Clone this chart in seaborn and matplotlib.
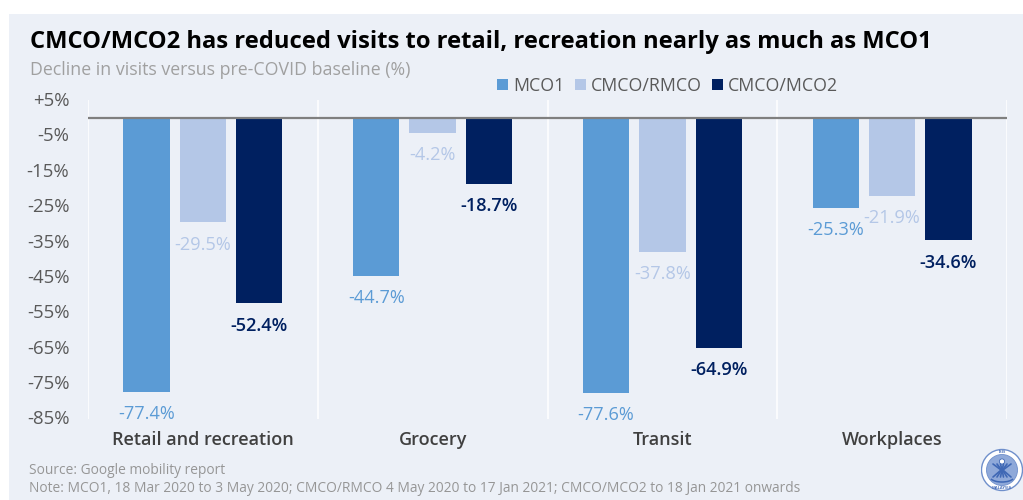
import matplotlib
matplotlib.use("Agg")
import matplotlib.pyplot as plt
from matplotlib.patches import Rectangle, Circle, Arc
from matplotlib.transforms import ScaledTranslation
import pandas as pd
import seaborn as sns

categories = ["Retail and recreation", "Grocery", "Transit", "Workplaces"]
mco1 = [-77.4, -44.7, -77.6, -25.3]
rmco = [-29.5, -4.2, -37.8, -21.9]
mco2 = [-52.4, -18.7, -64.9, -34.6]
series_names = ["MCO1", "CMCO/RMCO", "CMCO/MCO2"]
series_colors = ["#5B9BD5", "#B4C7E7", "#002060"]
y_ticks = [5, -5, -15, -25, -35, -45, -55, -65, -75, -85]
y_tick_labels = ["+5%", "-5%", "-15%", "-25%", "-35%", "-45%", "-55%", "-65%", "-75%", "-85%"]

title = "CMCO/MCO2 has reduced visits to retail, recreation nearly as much as MCO1"
subtitle = "Decline in visits versus pre-COVID baseline (%)"
source = "Source: Google mobility report"
note = "Note: MCO1, 18 Mar 2020 to 3 May 2020; CMCO/RMCO 4 May 2020 to 17 Jan 2021; CMCO/MCO2 to 18 Jan 2021 onwards"

PANEL = "#ECF0F7"
W, H = 1023, 500

sns.set_theme(style="white")
plt.rcParams["font.family"] = ["Open Sans", "DejaVu Sans"]

frame = pd.DataFrame({
    "category": categories * 3,
    "period": [n for n in series_names for _ in categories],
    "value": mco1 + rmco + mco2,
})

fig = plt.figure(figsize=(W / 100, H / 100), dpi=100, facecolor="white")
fig.add_artist(Rectangle((9 / W, 0), (W - 9) / W, (H - 14) / H, transform=fig.transFigure,
                         facecolor=PANEL, edgecolor="none", zorder=-5))

ax = fig.add_axes([88 / W, 1 - 418.7 / H, (1007 - 88) / W, (418 - 99.7) / H])
ax.patch.set_alpha(0)
sns.barplot(data=frame, x="category", y="value", hue="period", order=categories,
            hue_order=series_names, palette=series_colors, saturation=1,
            width=0.7365, gap=0.18, linewidth=0, ax=ax, legend=True)

ax.set_xlim(-0.5, 3.5)
ax.set_ylim(-85, 5)
ax.set_xlabel("")
ax.set_ylabel("")
for s in ax.spines.values():
    s.set_visible(False)

ax.set_yticks(y_ticks)
ax.set_yticklabels(y_tick_labels, fontsize=13.4, color="#595959")
ax.tick_params(axis="y", length=0, pad=13.5)
ax.tick_params(axis="x", length=0, pad=9.2)
for lab in ax.get_yticklabels():
    lab.set_transform(lab.get_transform() + ScaledTranslation(0, 1.3 / 100, fig.dpi_scale_trans))
for lab in ax.get_xticklabels():
    lab.set_fontsize(13)
    lab.set_color("#404040")
    lab.set_fontweight(600)

# category separators and the zero baseline
for edge in [-0.5, 0.5, 1.5, 2.5, 3.5]:
    ax.axvline(edge, color="white", lw=1.1, zorder=0)
ax.axhline(0, color="#7F7F7F", lw=1.6, zorder=5)

# value labels under each bar
for container, color, weight in zip(ax.containers, series_colors, [400, 400, 600]):
    for bar, v in zip(container, container.datavalues):
        ax.annotate(f"{v:.1f}%", (bar.get_x() + bar.get_width() / 2, v),
                    xytext=(0, -16), textcoords="offset points",
                    ha="center", va="center", fontsize=13.1, color=color,
                    fontweight=weight, annotation_clip=False)

sns.move_legend(ax, "center left", bbox_to_anchor=(497 / W, 1 - 85.7 / H),
                bbox_transform=fig.transFigure, ncol=3, frameon=False, title=None,
                fontsize=12.8, handlelength=0.62, handleheight=0.62, handletextpad=0.28,
                columnspacing=0.58, borderpad=0, borderaxespad=0, labelcolor="#595959")

fig.text(30 / W, 1 - 42.5 / H, title, fontsize=17.1, fontweight="bold", color="black", va="center", ha="left")
fig.text(30 / W, 1 - 70 / H, subtitle, fontsize=12.75, color="#A0A0A0", va="center", ha="left")
fig.text(29 / W, 1 - 471 / H, source, fontsize=9.95, color="#969696", va="center", ha="left")
fig.text(29 / W, 1 - 488.5 / H, note, fontsize=9.95, color="#969696", va="center", ha="left")

# institute emblem in the corner
logo = fig.add_axes([980.5 / W, 1 - 494 / H, 43 / W, 48 / H])
logo.set_xlim(-21.5, 21.5)
logo.set_ylim(-24, 24)
logo.axis("off")
logo.add_patch(Circle((0, 0), 20.5, facecolor="white", edgecolor="#6F8FCB", lw=1))
logo.add_patch(Circle((0, 0), 15.5, facecolor="#8FA9D9", edgecolor="#6F8FCB", lw=0.6))
logo.add_patch(Circle((0, 8.5), 2.6, facecolor="white", edgecolor="#3F68B5", lw=0.6))
for dx in (-9, -5, -1.5, 1.5, 5, 9):
    logo.plot([dx, dx * 0.1], [6, 0], color="#3F68B5", lw=1.2)
    logo.plot([dx * 0.1, dx], [0, -7], color="#3F68B5", lw=1.2)
logo.add_patch(Arc((0, -7), 24, 10, theta1=190, theta2=350, color="#3F68B5", lw=1.1))
logo.text(0, 17.8, "ISIS", fontsize=3, color="#4F74BC", ha="center", va="center", fontweight="bold")
logo.text(0, -17.8, "MALAYSIA", fontsize=2.9, color="#4F74BC", ha="center", va="center", fontweight="bold")

fig.savefig("out.png", dpi=100, facecolor="white")
